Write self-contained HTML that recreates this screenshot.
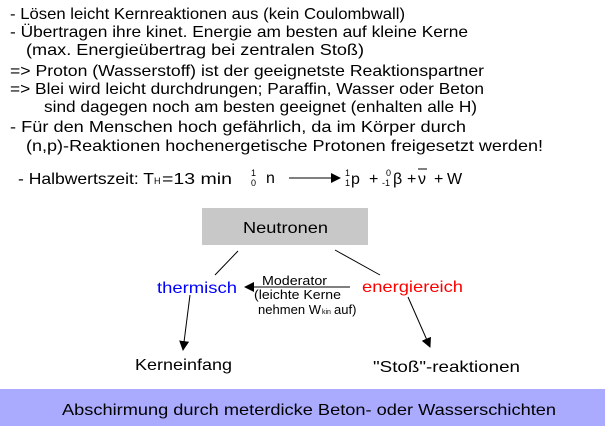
<!DOCTYPE html>
<html><head><meta charset="utf-8"><style>
html,body{margin:0;padding:0;background:#fff;width:605px;height:426px;overflow:hidden}
svg{display:block}
text{font-family:"Liberation Sans",sans-serif;font-size:16px;fill:#000}
</style></head><body>
<svg width="605" height="426" viewBox="0 0 605 426">
<defs><marker id="ah" markerWidth="10" markerHeight="10" refX="9" refY="5" orient="auto" markerUnits="userSpaceOnUse"><path d="M0,0 L10,5 L0,10 z" fill="#000"/></marker></defs>
<text x="10" y="19" textLength="395" lengthAdjust="spacingAndGlyphs">- Lösen leicht Kernreaktionen aus (kein Coulombwall)</text>
<text x="10" y="37" textLength="458" lengthAdjust="spacingAndGlyphs">- Übertragen ihre kinet. Energie am besten auf kleine Kerne</text>
<text x="26" y="55" textLength="338" lengthAdjust="spacingAndGlyphs">(max. Energieübertrag bei zentralen Stoß)</text>
<text x="10" y="76" textLength="474" lengthAdjust="spacingAndGlyphs">=&gt; Proton (Wasserstoff) ist der geeignetste Reaktionspartner</text>
<text x="10" y="94" textLength="474" lengthAdjust="spacingAndGlyphs">=&gt; Blei wird leicht durchdrungen; Paraffin, Wasser oder Beton</text>
<text x="44" y="112" textLength="433" lengthAdjust="spacingAndGlyphs">sind dagegen noch am besten geeignet (enhalten alle H)</text>
<text x="10" y="132" textLength="456" lengthAdjust="spacingAndGlyphs">- Für den Menschen hoch gefährlich, da im Körper durch</text>
<text x="26" y="151" textLength="517" lengthAdjust="spacingAndGlyphs">(n,p)-Reaktionen hochenergetische Protonen freigesetzt werden!</text>

<text x="18" y="184" textLength="136" lengthAdjust="spacingAndGlyphs">- Halbwertszeit: T</text>
<text x="154" y="184" style="font-size:9px">H</text>
<text x="162" y="184" textLength="70" lengthAdjust="spacingAndGlyphs">=13 min</text>
<text x="251" y="176" style="font-size:9px">1</text>
<text x="251" y="186" style="font-size:9px">0</text>
<text x="266" y="183">n</text>
<line x1="289" y1="178" x2="340" y2="178" stroke="#000" stroke-width="1" marker-end="url(#ah)"/>
<text x="345" y="176" style="font-size:9px">1</text>
<text x="345" y="186" style="font-size:9px">1</text>
<text x="351" y="184">p</text>
<text x="369" y="184">+</text>
<text x="386" y="176" style="font-size:9px">0</text>
<text x="382" y="186" style="font-size:9px">-1</text>
<text x="393" y="184">β</text>
<text x="407" y="184">+</text>
<text x="418" y="184">ν</text>
<line x1="418" y1="169" x2="427" y2="169" stroke="#000"/>
<text x="434" y="184">+</text>
<text x="447" y="184">W</text>

<rect x="202" y="208" width="166" height="37" fill="#c8c8c8"/>
<text x="243" y="233" textLength="85" lengthAdjust="spacingAndGlyphs">Neutronen</text>
<line x1="238" y1="251" x2="215" y2="275" stroke="#000"/>
<line x1="335" y1="250" x2="380" y2="275" stroke="#000"/>
<text x="157" y="293" textLength="80" lengthAdjust="spacingAndGlyphs" style="fill:#0000ff">thermisch</text>
<text x="362" y="292" textLength="101" lengthAdjust="spacingAndGlyphs" style="fill:#ff0000">energiereich</text>
<line x1="350" y1="287" x2="245" y2="287" stroke="#000" marker-end="url(#ah)"/>
<text x="262" y="285" style="font-size:13px" textLength="65" lengthAdjust="spacingAndGlyphs">Moderator</text>
<text x="254" y="299" style="font-size:13px" textLength="87" lengthAdjust="spacingAndGlyphs">(leichte Kerne</text>
<text x="258" y="314" style="font-size:13px" textLength="63" lengthAdjust="spacingAndGlyphs">nehmen W</text>
<text x="322" y="314" style="font-size:7px">kin</text>
<text x="334" y="314" style="font-size:13px">auf)</text>
<line x1="190" y1="295" x2="183" y2="350" stroke="#000" marker-end="url(#ah)"/>
<line x1="408" y1="297" x2="430" y2="347" stroke="#000" marker-end="url(#ah)"/>
<text x="135" y="370" textLength="97" lengthAdjust="spacingAndGlyphs">Kerneinfang</text>
<text x="373" y="372" textLength="147" lengthAdjust="spacingAndGlyphs">"Stoß"-reaktionen</text>

<rect x="0" y="389" width="605" height="37" fill="#aaaaff"/>
<text x="62" y="415" textLength="494" lengthAdjust="spacingAndGlyphs">Abschirmung durch meterdicke Beton- oder Wasserschichten</text>
</svg>
</body></html>
